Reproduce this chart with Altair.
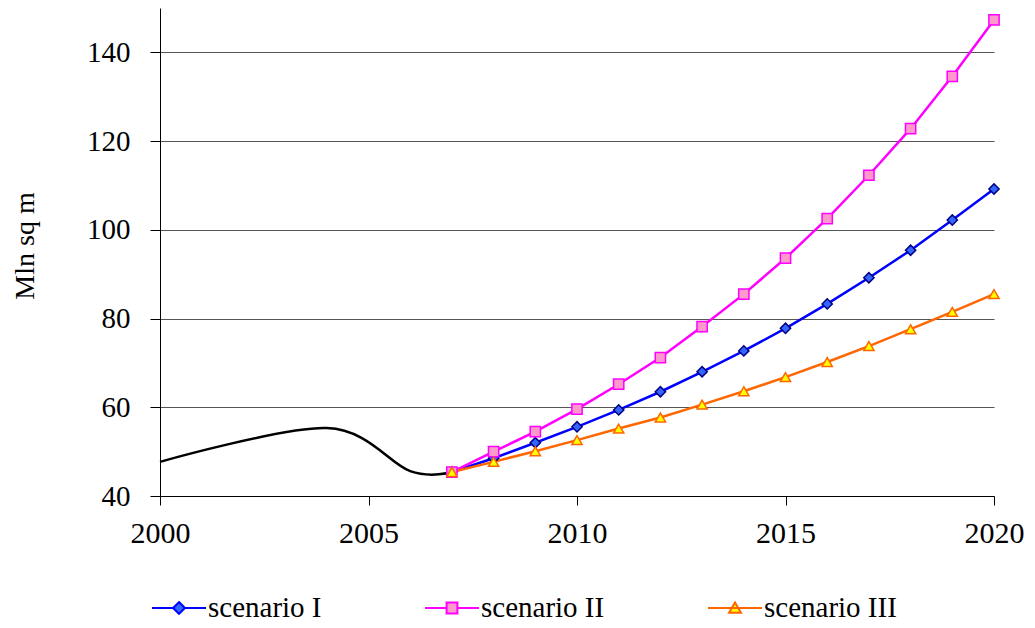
import altair as alt
import pandas as pd

# ---- data ----
hist_years = [2000, 2004, 2006, 2007]
hist_values = [47.7, 55.3, 45.6, 45.4]

years = [2007, 2008, 2009, 2010, 2011, 2012, 2013, 2014, 2015, 2016, 2017, 2018, 2019, 2020]
scenario_1 = [45.4, 48.5, 52.0, 55.6, 59.4, 63.5, 68.0, 72.7, 77.8, 83.3, 89.2, 95.4, 102.2, 109.2]
scenario_2 = [45.4, 50.0, 54.5, 59.6, 65.2, 71.2, 78.2, 85.5, 93.6, 102.5, 112.3, 122.8, 134.6, 147.3]
scenario_3 = [45.4, 47.7, 50.1, 52.6, 55.2, 57.7, 60.6, 63.6, 66.8, 70.2, 73.8, 77.6, 81.5, 85.5]

series_names = ["scenario I", "scenario II", "scenario III"]
line_colors = ["#0000FF", "#FF00FF", "#FF6600"]
marker_fills = ["#3366FF", "#FF99CC", "#FFFF00"]
marker_strokes = ["#000080", "#FF00FF", "#FF6600"]
marker_shapes = ["diamond", "square", "triangle-up"]
legend_paths = [
    "M-1,0H-0.22M0.22,0H1M0,-0.22L0.22,0L0,0.22L-0.22,0Z",
    "M-1,0H-0.2M0.2,0H1M-0.2,-0.2H0.2V0.2H-0.2Z",
    "M-1,0H1M0,-0.2L0.22,0.18L-0.22,0.18Z",
]

x_ticks = [2000, 2005, 2010, 2015, 2020]
y_ticks = [40, 60, 80, 100, 120, 140]

FONT = "Liberation Serif"

hist_df = pd.DataFrame({"year": hist_years, "value": hist_values})
scen_df = pd.DataFrame({
    "year": years * 3,
    "value": scenario_1 + scenario_2 + scenario_3,
    "series": [series_names[0]] * len(years) + [series_names[1]] * len(years) + [series_names[2]] * len(years),
})

x_enc = alt.X(
    "year:Q",
    scale=alt.Scale(domain=[2000, 2020], nice=False, zero=False),
    axis=alt.Axis(values=x_ticks, format="d", title=None, grid=False,
                  tickSize=9, labelPadding=13, labelFlush=False,
                  labelOverlap=False, labelFontSize=30),
)
y_enc = alt.Y(
    "value:Q",
    scale=alt.Scale(domain=[40, 150], nice=False, zero=False),
    axis=alt.Axis(values=y_ticks, title="Mln sq m", grid=True, tickSize=10,
                  labelPadding=20, titleAngle=-90, titleX=-127, titleY=237.5,
                  titleAlign="center", titleBaseline="alphabetic",
                  labelFlush=False, labelOverlap=False),
)

hist = alt.Chart(hist_df).mark_line(
    color="black", strokeWidth=2.5, interpolate="cardinal"
).encode(x=x_enc, y=y_enc)

lines = alt.Chart(scen_df).mark_line(strokeWidth=2.5).encode(
    x=x_enc, y=y_enc,
    color=alt.Color("series:N", scale=alt.Scale(domain=series_names, range=line_colors), legend=None),
)

points = alt.Chart(scen_df).mark_point(filled=True, opacity=1, size=105, strokeWidth=1.5).encode(
    x=x_enc, y=y_enc,
    shape=alt.Shape("series:N", scale=alt.Scale(domain=series_names, range=marker_shapes), legend=None),
    fill=alt.Fill("series:N", scale=alt.Scale(domain=series_names, range=marker_fills), legend=None),
    stroke=alt.Stroke("series:N", scale=alt.Scale(domain=series_names, range=marker_strokes), legend=None),
)

leg = alt.Legend(
    title=None, orient="none", legendX=-9, legendY=572, direction="horizontal",
    columnPadding=99, symbolSize=2916, symbolStrokeWidth=2, symbolOpacity=1,
    labelFont=FONT, labelFontSize=29, labelColor="black", labelOffset=1,
    labelLimit=400, padding=0,
)

legend_layer = alt.Chart(scen_df).mark_point(filled=True, opacity=0).encode(
    x=x_enc, y=y_enc,
    shape=alt.Shape("series:N", scale=alt.Scale(domain=series_names, range=legend_paths), legend=leg),
    fill=alt.Fill("series:N", scale=alt.Scale(domain=series_names, range=marker_fills), legend=leg),
    stroke=alt.Stroke("series:N", scale=alt.Scale(domain=series_names, range=line_colors), legend=leg),
)

chart = alt.layer(hist, lines, points, legend_layer).resolve_scale(
    shape="independent", fill="independent", stroke="independent"
).properties(
    width=834, height=488,
    autosize=alt.AutoSizeParams(type="none"),
    padding={"left": 152, "top": 0, "right": 33, "bottom": 124},
    background="white",
).configure_view(stroke=None).configure_axis(
    labelFont=FONT, labelFontSize=29, labelColor="black",
    titleFont=FONT, titleFontSize=28, titleFontWeight="normal", titleColor="black",
    domainColor="black", domainWidth=1, tickColor="black", tickWidth=1,
    gridColor="#555555", gridWidth=1,
)

chart.save("out.html", embed_options={"renderer": "svg", "actions": False})
